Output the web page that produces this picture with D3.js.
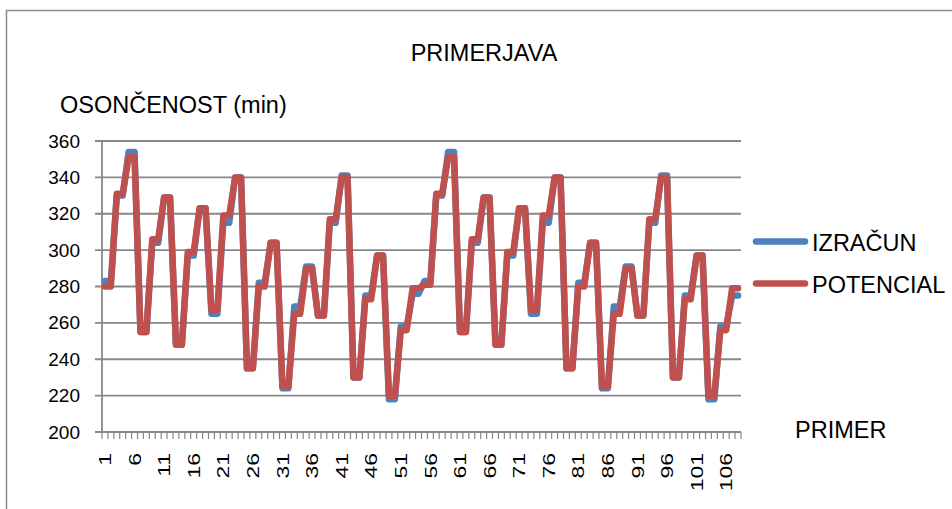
<!DOCTYPE html>
<html>
<head>
<meta charset="utf-8">
<script src="https://cdn.jsdelivr.net/npm/d3@7"></script>
<style>
  html, body { margin: 0; padding: 0; background: #fff; }
  svg { display: block; font-family: "Liberation Sans", Arial, sans-serif; }
</style>
</head>
<body>
<svg id="chart" width="952" height="509"></svg>
<script>
// Category numbers along the x axis (PRIMER 1..108)
const categories = d3.range(1, 109);

// Labelled categories on the x axis
const xTickLabels = [1, 6, 11, 16, 21, 26, 31, 36, 41, 46, 51, 56, 61, 66, 71, 76, 81, 86, 91, 96, 101, 106];

// Y axis ticks (minutes)
const yTicks = [200, 220, 240, 260, 280, 300, 320, 340, 360];

// IZRAČUN – computed sunshine duration (min)
const izracun = [
  283, 283, 330, 330, 354, 354, 255, 255, 304, 304, 329, 329, 248, 248, 297, 297, 323, 323,
  265, 265, 315, 315, 340, 340, 235, 235, 282, 282, 304, 304, 224, 224, 269, 269, 291, 291,
  264, 264, 315, 315, 341, 341, 230, 230, 275, 275, 297, 297, 218, 218, 258, 258, 276, 276,
  283, 283, 330, 330, 354, 354, 255, 255, 304, 304, 329, 329, 248, 248, 297, 297, 323, 323,
  265, 265, 315, 315, 340, 340, 235, 235, 282, 282, 304, 304, 224, 224, 269, 269, 291, 291,
  264, 264, 315, 315, 341, 341, 230, 230, 275, 275, 297, 297, 218, 218, 258, 258, 275, 275
];

// POTENCIAL – potential sunshine duration (min)
const potencial = [
  280, 280, 331, 331, 351, 351, 255, 255, 306, 306, 329, 329, 248, 248, 299, 299, 323, 323,
  267, 267, 319, 319, 340, 340, 235, 235, 280, 280, 304, 304, 225, 225, 265, 265, 290, 290,
  264, 264, 317, 317, 340, 340, 230, 230, 273, 273, 297, 297, 220, 220, 256, 256, 279, 279,
  281, 281, 331, 331, 351, 351, 255, 255, 306, 306, 329, 329, 248, 248, 299, 299, 323, 323,
  267, 267, 319, 319, 340, 340, 235, 235, 280, 280, 304, 304, 225, 225, 265, 265, 290, 290,
  264, 264, 317, 317, 340, 340, 230, 230, 273, 273, 297, 297, 220, 220, 256, 256, 279, 279
];

const seriesNames = ["IZRAČUN", "POTENCIAL"];
const seriesColors = ["#4F81BD", "#C0504D"];

const svg = d3.select("#chart");
const gridColor = "#878787";

// Outer chart frame
svg.append("rect")
  .attr("x", 6.5).attr("y", 10.5)
  .attr("width", 1000).attr("height", 1000)
  .attr("fill", "none").attr("stroke", "#8c8c8c").attr("stroke-width", 1.5);

// Plot area
const plot = { left: 102, right: 741, top: 141, bottom: 432 };

const x = d3.scaleBand()
  .domain(categories)
  .range([plot.left, plot.right])
  .padding(0);

const y = d3.scaleLinear()
  .domain([200, 360])
  .range([plot.bottom, plot.top]);

const cx = d => x(d) + x.bandwidth() / 2;

// Horizontal gridlines with the y axis tick marks on the left
svg.append("g")
  .selectAll("line")
  .data(yTicks)
  .join("line")
  .attr("x1", plot.left - 7).attr("x2", plot.right)
  .attr("y1", d => y(d)).attr("y2", d => y(d))
  .attr("stroke", gridColor).attr("stroke-width", 1.8);

// Y axis line
svg.append("line")
  .attr("x1", plot.left).attr("x2", plot.left)
  .attr("y1", plot.top).attr("y2", plot.bottom + 1)
  .attr("stroke", gridColor).attr("stroke-width", 1.8);

// Y tick labels
const yAxis = d3.axisLeft(y).tickValues(yTicks).tickSize(0).tickPadding(0);
const yg = svg.append("g")
  .attr("transform", `translate(${plot.left - 22},0)`)
  .call(yAxis);
yg.select(".domain").remove();
yg.selectAll("text")
  .attr("fill", "#000")
  .style("font-size", "19px")
  .style("font-family", "'Liberation Sans', Arial, sans-serif");

// X axis line and tick marks at each category boundary
svg.append("line")
  .attr("x1", plot.left).attr("x2", plot.right)
  .attr("y1", plot.bottom).attr("y2", plot.bottom)
  .attr("stroke", gridColor).attr("stroke-width", 1.8);

const boundaries = categories.map(c => x(c)).concat([plot.right]);
svg.append("g")
  .selectAll("line")
  .data(boundaries)
  .join("line")
  .attr("x1", d => d).attr("x2", d => d)
  .attr("y1", plot.bottom).attr("y2", plot.bottom + 7)
  .attr("stroke", gridColor).attr("stroke-width", 1.2);

// Rotated x tick labels
svg.append("g")
  .selectAll("text")
  .data(xTickLabels)
  .join("text")
  .attr("transform", d => `translate(${cx(d)},${plot.bottom + 21}) rotate(-90) scale(1.35,1)`)
  .attr("text-anchor", "end")
  .attr("dy", "0.36em")
  .attr("fill", "#000")
  .style("font-size", "17px")
  .text(d => d);

// Series lines: IZRAČUN below, POTENCIAL on top
const line = d3.line()
  .x((d, i) => cx(categories[i]))
  .y(d => y(d));

[izracun, potencial].forEach((values, k) => {
  svg.append("path")
    .datum(values)
    .attr("d", line)
    .attr("fill", "none")
    .attr("stroke", seriesColors[k])
    .attr("stroke-width", 6.5)
    .attr("stroke-linejoin", "round")
    .attr("stroke-linecap", "round");
});

// Title
svg.append("text")
  .attr("x", 484).attr("y", 61)
  .attr("text-anchor", "middle")
  .attr("fill", "#000")
  .style("font-size", "23.5px")
  .text("PRIMERJAVA");

// Y axis title
svg.append("text")
  .attr("x", 60).attr("y", 113)
  .attr("fill", "#000")
  .style("font-size", "23.5px")
  .text("OSONČENOST (min)");

// X axis title
svg.append("text")
  .attr("x", 795).attr("y", 438)
  .attr("fill", "#000")
  .style("font-size", "23.5px")
  .text("PRIMER");

// Legend
const legend = svg.append("g");
const legendY = [241.5, 283.5];
seriesNames.forEach((name, k) => {
  legend.append("line")
    .attr("x1", 756).attr("x2", 805)
    .attr("y1", legendY[k]).attr("y2", legendY[k])
    .attr("stroke", seriesColors[k])
    .attr("stroke-width", 6.5)
    .attr("stroke-linecap", "round");
  legend.append("text")
    .attr("x", 812).attr("y", legendY[k] + 9)
    .attr("fill", "#000")
    .style("font-size", "23.5px")
    .text(name);
});
</script>
</body>
</html>
